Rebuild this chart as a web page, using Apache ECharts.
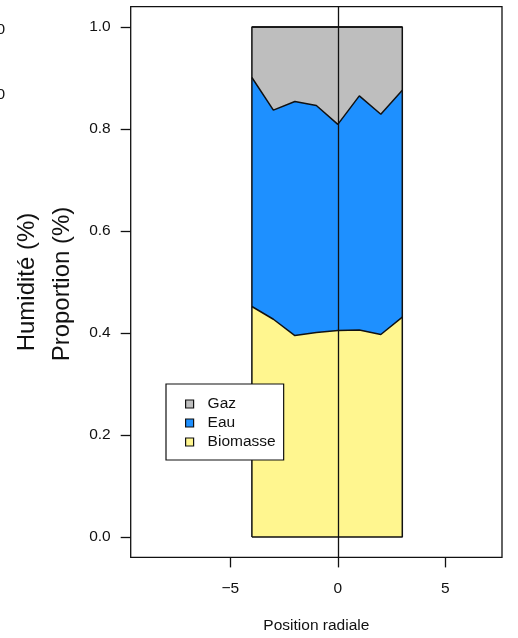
<!DOCTYPE html>
<html>
<head>
<meta charset="utf-8">
<script src="https://cdn.jsdelivr.net/npm/echarts@6/dist/echarts.min.js"></script>
<style>html,body{margin:0;padding:0;background:#fff}#c{width:518px;height:638px}</style>
</head>
<body>
<div id="c"></div>
<script>
// Data
const positions = [-4, -3, -2, -1, 0, 1, 2, 3];
const biomasse = [0.452, 0.427, 0.395, 0.401, 0.405, 0.406, 0.397, 0.431];
const eau      = [0.449, 0.410, 0.459, 0.445, 0.404, 0.459, 0.432, 0.445];
const gaz      = [0.099, 0.163, 0.146, 0.154, 0.191, 0.135, 0.171, 0.124];
const xTicks = [-5, 0, 5];
const yTicks = [0, 0.2, 0.4, 0.6, 0.8, 1.0];
const seriesNames = ['Biomasse', 'Eau', 'Gaz'];
const legendOrder = ['Gaz', 'Eau', 'Biomasse'];
const colors = {Biomasse: '#FFF68F', Eau: '#1E90FF', Gaz: '#BEBEBE'};

const font = '"Liberation Sans", Arial, Helvetica, sans-serif';
const fs = 15.5;
const chart = echarts.init(document.getElementById('c'), null, {renderer: 'canvas'});

const vals = {Biomasse: biomasse, Eau: eau, Gaz: gaz};
// cumulative tops (stack built from the data arrays)
const cum = {};
let run = positions.map(() => 0);
seriesNames.forEach(n => {
  run = run.map((r, i) => r + vals[n][i]);
  cum[n] = run.slice();
});
// draw from the top layer down so lower layers overlay the upper ones' fill
const areaSeries = seriesNames.slice().reverse().map((n, k) => ({
  name: n, type: 'line', symbol: 'none',
  data: positions.map((x, i) => [x, cum[n][i]]),
  lineStyle: {color: '#111', width: 1.5},
  itemStyle: {color: colors[n]},
  areaStyle: {color: colors[n], opacity: 1, origin: 'auto'},
  z: 2 + k
}));

const xMin = positions[0], xMax = positions[positions.length - 1];
const outline = {
  type: 'line', symbol: 'none', silent: true, z: 10,
  data: [[xMin, 0], [xMax, 0], [xMax, 1], [xMin, 1], [xMin, 0]],
  lineStyle: {color: '#111', width: 1.5},
  markLine: {
    silent: true, symbol: ['none', 'none'], label: {show: false},
    lineStyle: {color: '#111', width: 1.3, type: 'solid'},
    data: [{xAxis: 0}]
  }
};

chart.setOption({
  animation: false,
  grid: {left: 130.7, right: 16, top: 6.6, bottom: 80.6, show: true,
         outerBoundsMode: 'none', containLabel: false,
         borderColor: '#111', borderWidth: 1.3, backgroundColor: 'transparent'},
  xAxis: {
    type: 'value', min: -9.64, max: 7.64,
    axisLine: {show: false, onZero: false}, splitLine: {show: false},
    axisTick: {show: true, inside: false, length: 10, customValues: xTicks,
               lineStyle: {color: '#111', width: 1.3}},
    axisLabel: {customValues: xTicks, margin: 23, color: '#111', fontSize: fs, fontFamily: font,
                formatter: v => (v < 0 ? '\u2212' + Math.abs(v) : String(v))},
    name: 'Position radiale', nameLocation: 'middle', nameGap: 60,
    nameTextStyle: {fontSize: fs, color: '#111', fontFamily: font}
  },
  yAxis: {
    type: 'value', min: -0.04, max: 1.04,
    axisLine: {show: false, onZero: false}, splitLine: {show: false},
    axisTick: {show: true, inside: false, length: 10, customValues: yTicks,
               lineStyle: {color: '#111', width: 1.3}},
    axisLabel: {customValues: yTicks, margin: 20, color: '#111', fontSize: fs, fontFamily: font,
                formatter: v => v.toFixed(1)}
  },
  legend: {
    data: legendOrder, orient: 'vertical', left: 166, top: 384, z: 50,
    icon: 'rect', itemWidth: 8, itemHeight: 8, itemGap: 3,
    padding: [12, 8, 10, 19],
    borderColor: '#111', borderWidth: 1.2, backgroundColor: '#fff',
    itemStyle: {borderColor: '#111', borderWidth: 1.2},
    textStyle: {fontSize: fs, color: '#111', fontFamily: font, padding: [0, 0, 0, 9]},
    selectedMode: false
  },
  graphic: [
    {type: 'text', x: 27, y: 282, rotation: Math.PI / 2,
     style: {text: 'Humidité (%)', fontSize: 24, fill: '#111', fontFamily: font, align: 'center', verticalAlign: 'middle'}},
    {type: 'text', x: 62, y: 284, rotation: Math.PI / 2,
     style: {text: 'Proportion (%)', fontSize: 24, fill: '#111', fontFamily: font, align: 'center', verticalAlign: 'middle'}},
    {type: 'text', x: 5, y: 30,
     style: {text: '0', fontSize: fs, fill: '#111', fontFamily: font, align: 'right', verticalAlign: 'middle'}},
    {type: 'text', x: 5, y: 95,
     style: {text: '0', fontSize: fs, fill: '#111', fontFamily: font, align: 'right', verticalAlign: 'middle'}}
  ],
  series: [...areaSeries, outline]
});
</script>
</body>
</html>
